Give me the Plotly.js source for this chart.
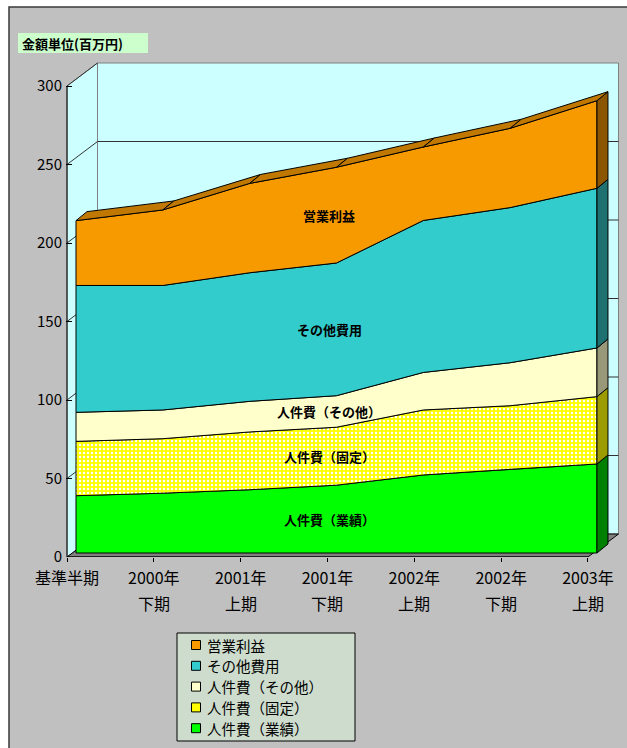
<!DOCTYPE html>
<html><head><meta charset="utf-8">
<script src="https://cdn.plot.ly/plotly-3.0.1.min.js"></script>
<style>html,body{margin:0;padding:0;background:#fff;}#chart{width:627px;height:748px;}</style>
</head><body><div id="chart"></div>
<script>
// ---- data ----
const periodLine1 = ['基準半期','2000年','2001年','2001年','2002年','2002年','2003年'];
const periodLine2 = ['','下期','上期','下期','上期','下期','上期'];
const yTicks = [0,50,100,150,200,250,300];
const yTitle = '金額単位(百万円)';
const seriesNames = ['人件費（業績）','人件費（固定）','人件費（その他）','その他費用','営業利益'];
const jinkenGyoseki = [36.5, 38.1, 40.3, 43.2, 49.7, 53.3, 56.7];
const jinkenKotei   = [34.6, 34.7, 36.8, 36.9, 41.4, 40.5, 42.9];
const jinkenSonota  = [18.5, 18.3, 19.5, 20.1, 23.9, 27.4, 31.0];
const sonotaHiyo    = [80.8, 79.3, 81.9, 84.5, 96.8, 98.8, 101.7];
const eigyoRieki    = [41.3, 48.1, 56.9, 61.0, 46.8, 50.5, 55.8];

// ---- styles ----
const FONT = 'Noto Sans CJK JP, Noto Sans, sans-serif';
const frontColors = ['#00FF00','#FFFF00','#FFFFCC','#33CCCC','#F69A00'];
const sideColors  = ['#008000','#9C9C00','#99997A','#1F7070','#8C5500'];
const topColor = '#C07800';

const values = [jinkenGyoseki, jinkenKotei, jinkenSonota, sonotaHiyo, eigyoRieki];
const cats = periodLine1.map((_, i) => i);
const N = cats.length;
const yMax = yTicks[yTicks.length - 1];

// layout geometry (pixels)
const L = 66, R = 620, T = 55, B = 557;
const catPx = 86.83, valPx = 1.57;
const px2x = p => (p - L) / (R - L);
const py2y = p => (B - p) / (B - T);
const DX = 11 / catPx, DY = 9 / valPx;      // series depth
const WX = 30.5 / catPx, WY = 23 / valPx;   // wall depth

// stacking
let base = cats.map(() => 0);
const cum = values.map(vals => {
  const top = base.map((b, i) => b + vals[i]);
  const o = {bottom: base, top: top};
  base = top;
  return o;
});

const traces = [];
const common = {type:'scatter', mode:'lines', xaxis:'x2', yaxis:'y2', fill:'toself',
  line:{color:'#000', width:1}, hoverinfo:'skip', showlegend:false};
cum.forEach((c, k) => {
  const xs = cats.concat(cats.slice().reverse(), [cats[0]]);
  const ys = c.top.concat(c.bottom.slice().reverse(), [c.top[0]]);
  const tr = Object.assign({}, common, {x: xs, y: ys, fillcolor: frontColors[k], name: seriesNames[k]});
  if (k === 1) tr.fillpattern = {shape:'.', bgcolor:'#FFFF00', fgcolor:'#FFFFFF', size:4, solidity:0.3};
  traces.push(tr);
});
const last = N - 1;
cum.forEach((c, k) => {
  traces.push(Object.assign({}, common, {
    x: [last, last, last + DX, last + DX, last],
    y: [c.bottom[last], c.top[last], c.top[last] + DY, c.bottom[last] + DY, c.bottom[last]],
    fillcolor: sideColors[k]}));
});
const topVals = cum[cum.length - 1].top;
for (let i = 0; i < N - 1; i++) {
  traces.push(Object.assign({}, common, {
    x: [i, i + 1, i + 1 + DX, i + DX, i],
    y: [topVals[i], topVals[i + 1], topVals[i + 1] + DY, topVals[i] + DY, topVals[i]],
    fillcolor: topColor}));
}

// ---- shapes ----
const shapes = [];
shapes.push({type:'rect', xref:'paper', yref:'paper', x0:px2x(9), x1:px2x(660), y0:py2y(7), y1:py2y(780),
  fillcolor:'#C0C0C0', line:{color:'#3a3a3a', width:1.5}, layer:'below'});
// left wall
shapes.push({type:'path', xref:'x', yref:'y', layer:'below', fillcolor:'#CCFFFF', line:{color:'#808080', width:1},
  path:`M0,0 L0,${yMax} L${WX},${yMax + WY} L${WX},${WY} Z`});
// back wall
shapes.push({type:'rect', xref:'x', yref:'y', layer:'below', fillcolor:'#CCFFFF', line:{color:'#808080', width:1},
  x0:WX, x1:last + WX, y0:WY, y1:yMax + WY});
// floor
shapes.push({type:'path', xref:'x', yref:'y', layer:'below', fillcolor:'#808080', line:{color:'#000', width:1},
  path:`M0,0 L${WX},${WY} L${last + WX},${WY} L${last},0 Z`});
yTicks.forEach(v => {
  if (v > 0 && v < yMax) shapes.push({type:'line', xref:'x', yref:'y', layer:'below', line:{color:'#333', width:1},
    x0:WX, x1:last + WX, y0:v + WY, y1:v + WY});
  if (v > 0) shapes.push({type:'line', xref:'x', yref:'y', layer:'below', line:{color:'#333', width:1},
    x0:0, x1:WX, y0:v, y1:v + WY});
});
shapes.push({type:'line', xref:'x', yref:'y', layer:'below', line:{color:'#000', width:1}, x0:0, x1:0, y0:0, y1:yMax});
shapes.push({type:'line', xref:'x', yref:'y', layer:'below', line:{color:'#000', width:1}, x0:0, x1:last, y0:0, y1:0});

// y title box
shapes.push({type:'rect', xref:'paper', yref:'paper', x0:px2x(18), x1:px2x(148), y0:py2y(33), y1:py2y(53),
  fillcolor:'#CCFFCC', line:{width:0}, layer:'above'});
// legend box
shapes.push({type:'rect', xref:'paper', yref:'paper', x0:px2x(177), x1:px2x(355), y0:py2y(633), y1:py2y(741),
  fillcolor:'#CDDCCD', line:{color:'#000', width:1}, layer:'above'});

const annotations = [];
annotations.push({xref:'paper', yref:'paper', x:px2x(20), y:py2y(43), xanchor:'left', yanchor:'middle',
  text:'<b>' + yTitle + '</b>', showarrow:false, font:{family:FONT, size:13, color:'#000'}});
// second line of category labels
cats.forEach(i => {
  if (periodLine2[i]) annotations.push({xref:'x', yref:'paper', x:i, y:py2y(603), xanchor:'center', yanchor:'middle',
    text:periodLine2[i], showarrow:false, font:{family:FONT, size:16, color:'#000'}});
});
// legend entries (top series first)
const rowY0 = 645, rowGap = 20.8;
for (let r = 0; r < seriesNames.length; r++) {
  const k = seriesNames.length - 1 - r;
  const cy = rowY0 + r * rowGap;
  shapes.push({type:'rect', xref:'paper', yref:'paper', x0:px2x(191.5), x1:px2x(200.5), y0:py2y(cy - 4.5), y1:py2y(cy + 4.5),
    fillcolor:frontColors[k], line:{color:'#000', width:1}, layer:'above'});
  annotations.push({xref:'paper', yref:'paper', x:px2x(206), y:py2y(cy), xanchor:'left', yanchor:'middle',
    borderpad:0, text:seriesNames[k], showarrow:false, font:{family:FONT, size:14.5, color:'#000'}});
}
// series labels inside areas
const mid = Math.floor(N / 2);
cum.forEach((c, k) => {
  annotations.push({xref:'x2', yref:'y2', x:mid, y:c.bottom[mid] + values[k][mid] / 2, xshift:-7,
    text:'<b>' + seriesNames[k] + '</b>', showarrow:false, font:{family:FONT, size:13, color:'#000'}});
});

const layout = {
  width:627, height:748,
  margin:{l:L, r:627 - R, t:T, b:748 - B},
  paper_bgcolor:'#FFFFFF', plot_bgcolor:'rgba(0,0,0,0)',
  font:{family:FONT, color:'#000'},
  showlegend:false,
  xaxis:{range:[(L - 67) / catPx, (R - 67) / catPx], tickvals:cats, ticktext:periodLine1, ticks:'outside', ticklen:4,
    ticklabelstandoff:3,
    tickcolor:'#000', showline:false, showgrid:false, zeroline:false, tickfont:{family:FONT, size:16, color:'#000'}, fixedrange:true},
  yaxis:{range:[0, (B - T) / valPx], tickvals:yTicks, ticks:'inside', ticklen:6, tickcolor:'#000',
    ticklabelstandoff:3,
    showline:false, showgrid:false, zeroline:false, tickfont:{family:FONT, size:15, color:'#000'}, fixedrange:true},
  xaxis2:{overlaying:'x', anchor:'y2', range:[(L - 76) / catPx, (R - 76) / catPx], visible:false, fixedrange:true},
  yaxis2:{overlaying:'y', anchor:'x2', range:[(553 - B) / valPx, (553 - T) / valPx], visible:false, fixedrange:true},
  shapes:shapes, annotations:annotations
};
Plotly.newPlot('chart', traces, layout, {displayModeBar:false, staticPlot:true});
</script></body></html>
